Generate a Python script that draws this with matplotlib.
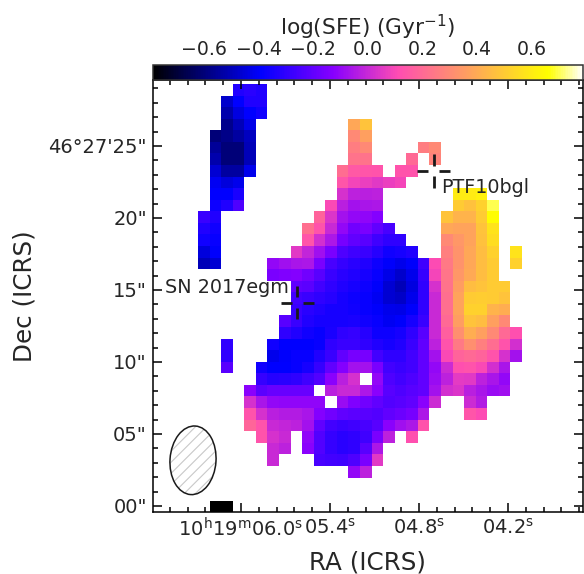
import matplotlib
matplotlib.use('Agg')
import matplotlib.pyplot as plt
import matplotlib.ticker as plticker
import matplotlib.transforms as mtrans
from matplotlib.patches import Ellipse
import numpy as np

plt.rcParams['font.family'] = 'DejaVu Sans'
plt.rcParams['mathtext.default'] = 'regular'
plt.rcParams['hatch.linewidth'] = 0.8
text_color = '#262626'

_ = np.nan

# log(SFE) per map pixel, top row first, 28 columns
sfe_rows = [
    [_, _, _, -.33, -.31, -.33],
    [_, _, -.47, -.39, -.33, -.33],
    [_, _, -.52, -.44, -.39, -.36],
    [_, _, -.57, -.50, -.43, _, _, _, _, _, _, _, _, .39, .48],
    [_, -.60, -.58, -.54, -.49, _, _, _, _, _, _, _, _, .30, .37],
    [_, -.55, -.60, -.60, -.50, _, _, _, _, _, _, _, _, .26, .30, _, _, _, _, .26, .30],
    [_, -.52, -.60, -.60, -.50, _, _, _, _, _, _, _, _, .23, .23, _, _, _, .20, _, .28],
    [_, -.46, -.54, -.54, -.42, _, _, _, _, _, _, _, .21, .15, .14, .13, _, .13, .13],
    [_, -.41, -.45, -.42, _, _, _, _, _, _, _, _, .14, .09, .07, .05, .07, .09],
    [_, -.39, -.39, -.34, _, _, _, _, _, _, _, _, .03, -.02, -.03, -.02, _, _, _, _, _, _, .60, .60, .62],
    [_, -.37, -.33, -.24, _, _, _, _, _, _, _, .10, -.03, -.07, -.06, -.05, _, _, _, _, _, _, .50, .47, .52, .70],
    [-.28, -.33, _, _, _, _, _, _, _, _, .18, .04, -.07, -.10, -.11, -.13, _, _, _, _, _, .48, .43, .43, .50, .66],
    [-.33, -.36, _, _, _, _, _, _, _, .22, .13, .00, -.10, -.17, -.15, -.20, -.25, _, _, _, _, .39, .38, .38, .48, .58],
    [-.36, -.38, _, _, _, _, _, _, _, .14, .02, -.05, -.16, -.20, -.22, -.27, -.30, -.30, _, _, _, .30, .34, .38, .47, .56],
    [-.45, -.40, _, _, _, _, _, _, .05, -.01, -.08, -.15, -.24, -.27, -.28, -.32, -.36, -.35, -.33, _, _, .27, .33, .39, .46, .52, _, .58],
    [-.50, -.46, _, _, _, _, -.10, -.08, -.06, -.05, -.15, -.25, -.29, -.31, -.33, -.37, -.40, -.42, -.40, -.27, .11, .25, .33, .39, .46, .50, _, .52],
    [_, _, _, _, _, _, -.15, -.14, -.13, -.17, -.22, -.28, -.31, -.33, -.35, -.38, -.43, -.47, -.42, -.29, .09, .24, .34, .40, .46, .50],
    [_, _, _, _, _, _, _, _, -.20, -.21, -.26, -.30, -.33, -.35, -.37, -.40, -.46, -.50, -.44, -.30, .03, .23, .36, .46, .48, .50, .50],
    [_, _, _, _, _, _, _, _, -.26, -.28, -.30, -.32, -.35, -.37, -.38, -.41, -.46, -.48, -.42, -.30, .00, .22, .38, .50, .51, .50, .48],
    [_, _, _, _, _, _, _, _, -.28, -.31, -.33, -.35, -.35, -.36, -.38, -.40, -.42, -.43, -.40, -.30, .00, .22, .38, .52, .52, .43, .41],
    [_, _, _, _, _, _, _, -.22, -.28, -.33, -.35, -.35, -.35, -.34, -.36, -.38, -.41, -.40, -.35, -.28, .00, .20, .36, .48, .46, .37, .30],
    [_, _, _, _, _, _, _, -.30, -.33, -.36, -.38, -.34, -.30, -.29, -.32, -.37, -.37, -.35, -.30, -.22, .00, .17, .32, .41, .37, .30, .20, .12],
    [_, _, -.30, _, _, _, -.36, -.39, -.39, -.39, -.38, -.30, -.28, -.28, -.30, -.33, -.35, -.33, -.28, -.20, -.02, .13, .25, .32, .27, .21, .13, .02],
    [_, _, -.30, _, _, _, -.42, -.40, -.38, -.38, -.33, -.28, -.20, -.16, -.16, -.26, -.30, -.30, -.26, -.20, -.07, .10, .18, .20, .18, .13, .03, -.07],
    [_, _, -.22, _, _, -.36, -.39, -.39, -.38, -.35, -.29, -.20, -.13, -.07, -.07, -.15, -.26, -.28, -.26, -.20, -.10, .01, .12, .13, .10, .02, -.06],
    [_, _, _, _, _, -.29, -.32, -.31, -.30, -.27, -.23, -.12, -.03, .03, _, -.10, -.24, -.26, -.24, -.20, -.09, -.02, .06, .05, -.02, -.06, -.10],
    [_, _, _, _, -.12, -.21, -.19, -.19, -.19, -.19, _, -.03, .00, .00, -.05, -.12, -.22, -.24, -.22, -.20, -.07, .02, .04, -.03, -.06, -.09, -.08],
    [_, _, _, _, .03, -.06, -.10, -.11, -.11, -.11, -.11, _, -.09, -.14, -.17, -.20, -.23, -.22, -.20, -.12, .01, _, _, .01, -.04],
    [_, _, _, _, .13, .03, -.03, -.04, -.04, -.06, -.13, -.17, -.20, -.21, -.22, -.23, -.20, -.18, -.16, -.05, _, _, _, .14, .11],
    [_, _, _, _, .19, .13, .00, -.01, -.02, -.07, -.20, -.26, -.28, -.27, -.25, -.22, -.12, -.08, -.05, .13],
    [_, _, _, _, _, .13, .03, .00, _, -.11, -.23, -.29, -.31, -.30, -.27, -.15, -.02, _, .12],
    [_, _, _, _, _, _, .00, -.02, _, -.12, -.23, -.29, -.31, -.30, -.22, -.05],
    [_, _, _, _, _, _, .00, _, _, _, -.25, -.26, -.27, -.24, -.15, .05],
    [_, _, _, _, _, _, _, _, _, _, _, _, _, -.10, -.02],
    [],
    [],
    [_, -.79, -.79],
]

ra_ticks = [6.0, 5.4, 4.8, 4.2]
ra_labels = [r'$10^{h}19^{m}06.0^{s}$', r'$05.4^{s}$', r'$04.8^{s}$', r'$04.2^{s}$']
dec_ticks = [0, 5, 10, 15, 20, 25]
dec_labels = ['00"', '05"', '10"', '15"', '20"', '46°27\'25"']
cbar_ticks = [-0.6, -0.4, -0.2, 0.0, 0.2, 0.4, 0.6]

# pad the rows to a full table
ncol = 28
sfe = np.full((len(sfe_rows), ncol), np.nan)
for i, row in enumerate(sfe_rows):
    sfe[i, :len(row)] = row

fig = plt.figure(figsize=(5.84, 5.74), dpi=100)
ax = fig.add_axes([152.5/584, 62/574, 430.8/584, 432/574])
cax = fig.add_axes([152.5/584, 494/574, 430.8/584, 15/574])

# map pixel is 0.8 arcsec, ra in seconds
ra_left, dra = 6.29, 0.07787
dec_top, ddec = 29.24, 0.802
extent = [ra_left, ra_left - ncol*dra, dec_top - len(sfe_rows)*ddec, dec_top]
im = ax.imshow(sfe, cmap='gnuplot2', vmin=-0.79, vmax=0.79, extent=extent,
               aspect='auto', interpolation='nearest')
ax.set_xlim(6.597, 3.692)
ax.set_ylim(-0.417, 29.58)

ax.set_xticks(ra_ticks, ra_labels)
ax.set_yticks(dec_ticks, dec_labels)
ax.xaxis.set_minor_locator(plticker.MultipleLocator(0.12))
ax.yaxis.set_minor_locator(plticker.MultipleLocator(1))
ax.tick_params(which='major', direction='in', top=True, right=True, length=6.2, width=1.1,
               labelsize=14, labelcolor=text_color, pad=4)
ax.tick_params(which='minor', direction='in', top=True, right=True, length=3.6, width=1.1)
for spine in ax.spines.values():
    spine.set_linewidth(1.1)
ax.set_xlabel('RA (ICRS)', fontsize=17.7, color=text_color, labelpad=7)
ax.set_ylabel('Dec (ICRS)', fontsize=17.7, color=text_color, labelpad=8.5)

# dashed crosses on the two supernovae
sn_names = ['SN 2017egm', 'PTF10bgl']
sn_ra = [5.622, 4.70]
sn_dec = [14.10, 23.26]
sn_text_ra = [6.512, 4.652]
sn_text_dec = [15.14, 22.15]
for name, r, d, tr, td in zip(sn_names, sn_ra, sn_dec, sn_text_ra, sn_text_dec):
    for sign in (-1, 1):
        ax.plot([r + sign*0.037, r + sign*0.111], [d, d], color='#1a1a1a', lw=2, solid_capstyle='butt')
        ax.plot([r, r], [d + sign*0.38, d + sign*1.15], color='#1a1a1a', lw=2, solid_capstyle='butt')
    ax.text(tr, td, name, fontsize=13.8, color=text_color, ha='left', va='center')

# beam, placed in pixels so that the tilt stays right
beam_xy = (193, 574 - 460.3)
ax.add_patch(Ellipse(beam_xy, 46, 68.7, angle=-4, transform=mtrans.IdentityTransform(),
                     facecolor='white', edgecolor='#c8c8c8', hatch='///', lw=0))
ax.add_patch(Ellipse(beam_xy, 46, 68.7, angle=-4, transform=mtrans.IdentityTransform(),
                     fill=False, edgecolor='#1a1a1a', lw=1.1))

cbar = fig.colorbar(im, cax=cax, orientation='horizontal', ticklocation='top')
cbar.set_ticks(cbar_ticks)
cbar.ax.tick_params(length=0, labelsize=13.6, labelcolor=text_color, pad=4)
cbar.set_label(r'log(SFE) (Gyr$^{-1}$)', fontsize=15.6, color=text_color, labelpad=4)
cbar.outline.set_linewidth(1.1)
cbar.outline.set_edgecolor('#333333')

fig.savefig('out.png', dpi=100)
